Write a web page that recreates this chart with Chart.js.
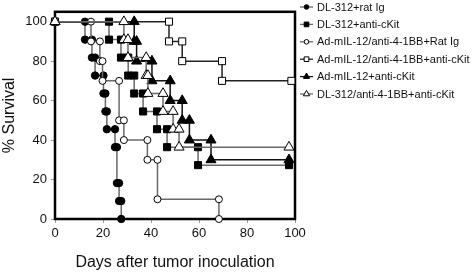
<!DOCTYPE html>
<html lang="en">
<head>
<meta charset="UTF-8" />
<title>% Survival</title>
<script src="https://cdn.jsdelivr.net/npm/chart.js"></script>
<style>
  html, body { margin: 0; padding: 0; background: #fff; }
  #wrap { width: 475px; height: 273px; }
</style>
</head>
<body>
<div id="wrap"><canvas id="survChart" width="475" height="273"></canvas></div>
<script>
  const xTicks = [0, 20, 40, 60, 80, 100];
  const yTicks = [0, 20, 40, 60, 80, 100];

  const groupNames = [
    'DL-312+rat Ig',
    'DL-312+anti-cKit',
    'Ad-mIL-12/anti-4-1BB+Rat Ig',
    'Ad-mIL-12/anti-4-1BB+anti-cKit',
    'Ad-mIL-12+anti-cKit',
    'DL-312/anti-4-1BB+anti-cKit'
  ];

  // step corners (day, % survival)
  const ratIgDays = [0, 12.5, 12.5, 15.4, 15.4, 16.7, 16.7, 20.2, 20.2, 21, 21, 21.6, 21.6, 25, 25, 25.8, 25.8, 26.7, 26.7, 27.6, 27.6];
  const ratIgSurv = [100, 100, 90.9, 90.9, 81.8, 81.8, 72.7, 72.7, 63.6, 63.6, 54.5, 54.5, 45.5, 45.5, 36.4, 36.4, 18.2, 18.2, 9.1, 9.1, 0];

  const cKitDays = [0, 22.5, 22.5, 27.5, 27.5, 30.5, 30.5, 33, 33, 36.7, 36.7, 42.5, 42.5, 46.7, 46.7, 59.6, 59.6, 97.5];
  const cKitSurv = [100, 100, 90.9, 90.9, 81.8, 81.8, 72.7, 72.7, 63.6, 63.6, 54.5, 54.5, 45.5, 45.5, 36.4, 36.4, 27.3, 27.3];

  const il12RatDays = [0, 15, 15, 18.7, 18.7, 19.8, 19.8, 26.7, 26.7, 28.7, 28.7, 38.5, 38.5, 42.7, 42.7, 68.3, 68.3];
  const il12RatSurv = [100, 100, 90, 90, 80, 80, 70, 70, 50, 50, 40, 40, 30, 30, 10, 10, 0];

  const il12CKitDays = [0, 47.5, 47.5, 53, 53, 69.6, 69.6, 98.5];
  const il12CKitSurv = [100, 100, 90, 90, 80, 80, 70, 70];

  const il12OnlyDays = [0, 33, 33, 34, 34, 40.4, 40.4, 48, 48, 53, 53, 56, 56, 65, 65, 97.5];
  const il12OnlySurv = [100, 100, 90, 90, 80, 80, 70, 70, 60, 60, 50, 50, 40, 40, 30, 30];

  const dl4bbDays = [0, 28.7, 28.7, 30.4, 30.4, 38, 38, 38.7, 38.7, 45, 45, 49.2, 49.2, 51.7, 51.7, 97.5];
  const dl4bbSurv = [100, 100, 90.9, 90.9, 81.8, 81.8, 72.7, 72.7, 63.6, 63.6, 54.5, 54.5, 45.5, 45.5, 36.4, 36.4];

  const FONT = '"Liberation Sans", Arial, Helvetica, sans-serif';

  const looks = [
    { days: ratIgDays,    surv: ratIgSurv,    line: '#6a6a6a', style: 'circle',   fill: '#000', r: 3.7 },
    { days: cKitDays,     surv: cKitSurv,     line: '#6a6a6a', style: 'rect',     fill: '#000', r: 5 },
    { days: il12RatDays,  surv: il12RatSurv,  line: '#6a6a6a', style: 'circle',   fill: '#fff', r: 3.5 },
    { days: il12CKitDays, surv: il12CKitSurv, line: '#222',    style: 'rect',     fill: '#fff', r: 5 },
    { days: il12OnlyDays, surv: il12OnlySurv, line: '#111',    style: 'triangle', fill: '#000', r: 5.8 },
    { days: dl4bbDays,    surv: dl4bbSurv,    line: '#6a6a6a', style: 'triangle', fill: '#fff', r: 5.8 }
  ];

  const datasets = looks.map((s, i) => ({
    label: groupNames[i],
    data: s.days.map((d, j) => ({ x: d, y: s.surv[j] })),
    borderColor: s.line,
    borderWidth: 1.5,
    pointStyle: s.style,
    pointRadius: s.r,
    pointBackgroundColor: s.fill,
    pointBorderColor: '#000',
    pointBorderWidth: 1,
    tension: 0,
    clip: false,
    order: looks.length - i
  }));

  function drawMarker(ctx, style, x, y, r, fill) {
    ctx.save();
    ctx.fillStyle = fill;
    ctx.strokeStyle = '#000';
    ctx.lineWidth = 1;
    ctx.beginPath();
    if (style === 'circle') {
      ctx.arc(x, y, r, 0, Math.PI * 2);
    } else if (style === 'rect') {
      const h = r * Math.SQRT1_2;
      ctx.rect(x - h, y - h, 2 * h, 2 * h);
    } else {
      ctx.moveTo(x, y - r);
      ctx.lineTo(x + r * 0.866, y + r * 0.5);
      ctx.lineTo(x - r * 0.866, y + r * 0.5);
      ctx.closePath();
    }
    ctx.fill();
    ctx.stroke();
    ctx.restore();
  }

  const framePlugin = {
    id: 'frame',
    beforeDatasetsDraw(chart) {
      const { ctx, chartArea: a } = chart;
      ctx.save();
      ctx.strokeStyle = '#000';
      ctx.lineWidth = 2.5;
      ctx.strokeRect(a.left, a.top, a.right - a.left, a.bottom - a.top);
      ctx.restore();
    }
  };

  const legendPlugin = {
    id: 'sideLegend',
    afterDraw(chart) {
      const ctx = chart.ctx;
      const x0 = 300, y0 = 7, step = 17.4;
      ctx.save();
      ctx.font = '11px ' + FONT;
      ctx.textBaseline = 'middle';
      looks.forEach((s, i) => {
        const y = y0 + i * step;
        ctx.strokeStyle = s.line;
        ctx.lineWidth = 1.3;
        ctx.beginPath();
        ctx.moveTo(x0, y);
        ctx.lineTo(x0 + 13, y);
        ctx.stroke();
        drawMarker(ctx, s.style, x0 + 6.5, y, s.style === 'circle' ? 2.3 : (s.style === 'rect' ? 3.3 : 3.6), s.fill);
        ctx.fillStyle = '#111';
        ctx.fillText(groupNames[i], x0 + 17, y + 0.5);
      });
      ctx.restore();
    }
  };

  const ctx = document.getElementById('survChart').getContext('2d');
  new Chart(ctx, {
    type: 'line',
    data: { datasets: datasets },
    options: {
      responsive: false,
      animation: false,
      layout: { padding: { top: 2, right: 180, left: 0, bottom: 0 } },
      plugins: {
        legend: { display: false },
        tooltip: { enabled: false }
      },
      scales: {
        x: {
          type: 'linear',
          min: 0,
          max: 100,
          afterBuildTicks: s => { s.ticks = xTicks.map(v => ({ value: v })); },
          afterFit: s => { s.height = 54; },
          ticks: { color: '#111', font: { family: FONT, size: 13 }, padding: 3, maxRotation: 0 },
          grid: { drawOnChartArea: false, drawTicks: true, tickLength: 4, color: '#999' },
          border: { display: false },
          title: {
            display: true,
            text: 'Days after tumor inoculation',
            color: '#111',
            font: { family: FONT, size: 16, lineHeight: 1 },
            padding: { top: 0, bottom: 2 }
          }
        },
        y: {
          min: 0,
          max: 105,
          afterBuildTicks: s => { s.ticks = yTicks.map(v => ({ value: v })); },
          afterFit: s => { s.width = 55; },
          ticks: { color: '#111', font: { family: FONT, size: 13 }, padding: 4 },
          grid: { drawOnChartArea: false, drawTicks: true, tickLength: 4, color: '#999' },
          border: { display: false },
          title: {
            display: true,
            text: '% Survival',
            color: '#111',
            font: { family: FONT, size: 16, lineHeight: 1 },
            padding: { top: 2, bottom: 0 }
          }
        }
      }
    },
    plugins: [framePlugin, legendPlugin]
  });
</script>
</body>
</html>
